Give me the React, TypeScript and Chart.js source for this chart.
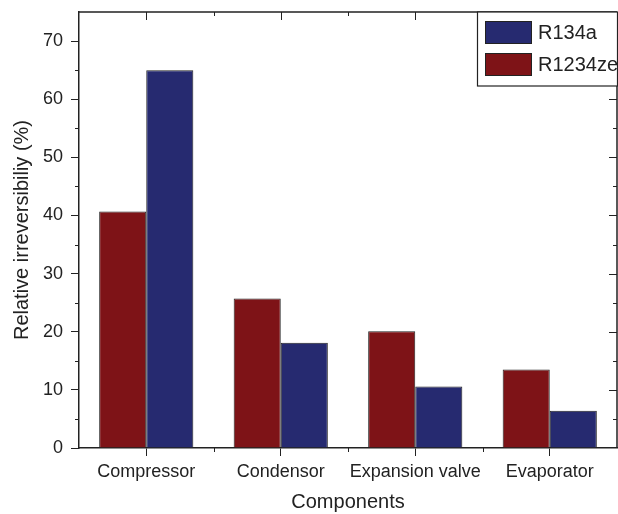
import React, { useEffect, useRef } from "react";
import { Chart, registerables } from "chart.js";

Chart.register(...registerables);

const categories = ["Compressor", "Condensor", "Expansion valve", "Evaporator"];
const r1234zeValues = [40.7, 25.7, 20.1, 13.5];
const r134aValues = [65.0, 18.1, 10.6, 6.4];
const yTicks = [0, 10, 20, 30, 40, 50, 60, 70];
const seriesLabels = ["R1234ze", "R134a"];
const legendOrder = ["R134a", "R1234ze"];

const FONT = "'Liberation Sans', Arial, Helvetica, sans-serif";
const INK = "#222222";
const RED = "#7e1317";
const BLUE = "#262a70";

const framePlugin = {
  id: "frameTicks",
  afterDraw(chart: any) {
    const ctx = chart.ctx;
    const { left, right, top, bottom } = chart.chartArea;
    const xs = chart.scales.x;
    const ys = chart.scales.y;
    ctx.save();
    ctx.strokeStyle = INK;
    ctx.lineWidth = 1.5;
    ctx.beginPath();
    ctx.moveTo(left, top);
    ctx.lineTo(right, top);
    ctx.moveTo(right, top);
    ctx.lineTo(right, bottom);
    ctx.stroke();

    ctx.lineWidth = 1;
    ctx.beginPath();
    for (let i = 0; i < yTicks.length; i++) {
      const yMaj = Math.round(ys.getPixelForValue(yTicks[i])) + 0.5;
      if (i > 0) {
        ctx.moveTo(right, yMaj);
        ctx.lineTo(right - 8, yMaj);
      }
      if (i < yTicks.length - 1) {
        const mid = (yTicks[i] + yTicks[i + 1]) / 2;
        const yMin = Math.round(ys.getPixelForValue(mid)) + 0.5;
        ctx.moveTo(left, yMin);
        ctx.lineTo(left - 4, yMin);
        ctx.moveTo(right, yMin);
        ctx.lineTo(right - 4, yMin);
      }
    }
    for (let i = 0; i < categories.length; i++) {
      const xc = Math.round(xs.getPixelForValue(i)) + 0.5;
      ctx.moveTo(xc, top);
      ctx.lineTo(xc, top + 8);
      if (i < categories.length - 1) {
        const xb = Math.round((xs.getPixelForValue(i) + xs.getPixelForValue(i + 1)) / 2) + 0.5;
        ctx.moveTo(xb, bottom);
        ctx.lineTo(xb, bottom + 4);
        ctx.moveTo(xb, top);
        ctx.lineTo(xb, top + 4);
      }
    }
    ctx.stroke();

    const bx = 477;
    const by = top;
    const bw = right - bx;
    const bh = 74;
    ctx.fillStyle = "#ffffff";
    ctx.fillRect(bx, by, bw, bh);
    ctx.lineWidth = 1.2;
    ctx.strokeRect(bx + 0.5, by, bw, bh);
    ctx.font = `20px ${FONT}`;
    ctx.textBaseline = "middle";
    ctx.textAlign = "left";
    legendOrder.forEach((name, k) => {
      const ds = chart.data.datasets.find((d: any) => d.label === name);
      const sy = by + 9 + k * 32;
      ctx.fillStyle = ds.backgroundColor;
      ctx.fillRect(485, sy, 46, 22);
      ctx.lineWidth = 1;
      ctx.strokeStyle = INK;
      ctx.strokeRect(485.5, sy + 0.5, 46, 22);
      ctx.fillStyle = INK;
      ctx.fillText(name, 538, sy + 12);
    });
    ctx.restore();
  },
};

export default function App() {
  const ref = useRef<HTMLCanvasElement | null>(null);

  useEffect(() => {
    document.body.style.margin = "0";
    const canvas = ref.current;
    if (!canvas) return;
    const chart = new Chart(canvas, {
      type: "bar",
      data: {
        labels: categories,
        datasets: [
          {
            label: seriesLabels[0],
            data: r1234zeValues,
            backgroundColor: RED,
            borderColor: INK,
            borderWidth: 1,
            categoryPercentage: 0.7,
            barPercentage: 1.0,
          },
          {
            label: seriesLabels[1],
            data: r134aValues,
            backgroundColor: BLUE,
            borderColor: INK,
            borderWidth: 1,
            categoryPercentage: 0.7,
            barPercentage: 1.0,
          },
        ],
      },
      options: {
        responsive: false,
        animation: false,
        layout: { padding: { top: 12, right: 1, left: 0, bottom: 0 } },
        plugins: {
          legend: { display: false },
          tooltip: { enabled: false },
        },
        scales: {
          x: {
            offset: true,
            afterFit: (s: any) => {
              s.height = 66;
              s.paddingLeft = 0;
              s.paddingRight = 0;
            },
            border: { display: true, color: INK, width: 1.5 },
            grid: { offset: false, drawOnChartArea: false, drawTicks: true, tickLength: 8, color: INK, lineWidth: 1 },
            ticks: { font: { size: 18, family: FONT }, color: INK, padding: 5, maxRotation: 0, autoSkip: false },
            title: {
              display: true,
              text: "Components",
              font: { size: 20, family: FONT },
              color: INK,
              padding: { top: 0, bottom: 0 },
            },
          },
          y: {
            min: 0,
            max: 75,
            afterBuildTicks: (s: any) => {
              s.ticks = yTicks.map((v) => ({ value: v }));
            },
            afterFit: (s: any) => {
              s.width = 79;
              s.paddingTop = 0;
              s.paddingBottom = 0;
            },
            border: { display: true, color: INK, width: 1.5 },
            grid: { drawOnChartArea: false, drawTicks: true, tickLength: 8, color: INK, lineWidth: 1 },
            ticks: { font: { size: 18, family: FONT }, color: INK, padding: 8 },
            title: {
              display: true,
              text: "Relative irreversibiliy (%)",
              font: { size: 20, family: FONT },
              color: INK,
              padding: { top: 10, bottom: 0 },
            },
          },
        },
      },
      plugins: [framePlugin],
    });
    return () => chart.destroy();
  }, []);

  return (
    <div style={{ width: 618, height: 514, background: "#fff" }}>
      <canvas ref={ref} width={618} height={514} style={{ display: "block" }} />
    </div>
  );
}
